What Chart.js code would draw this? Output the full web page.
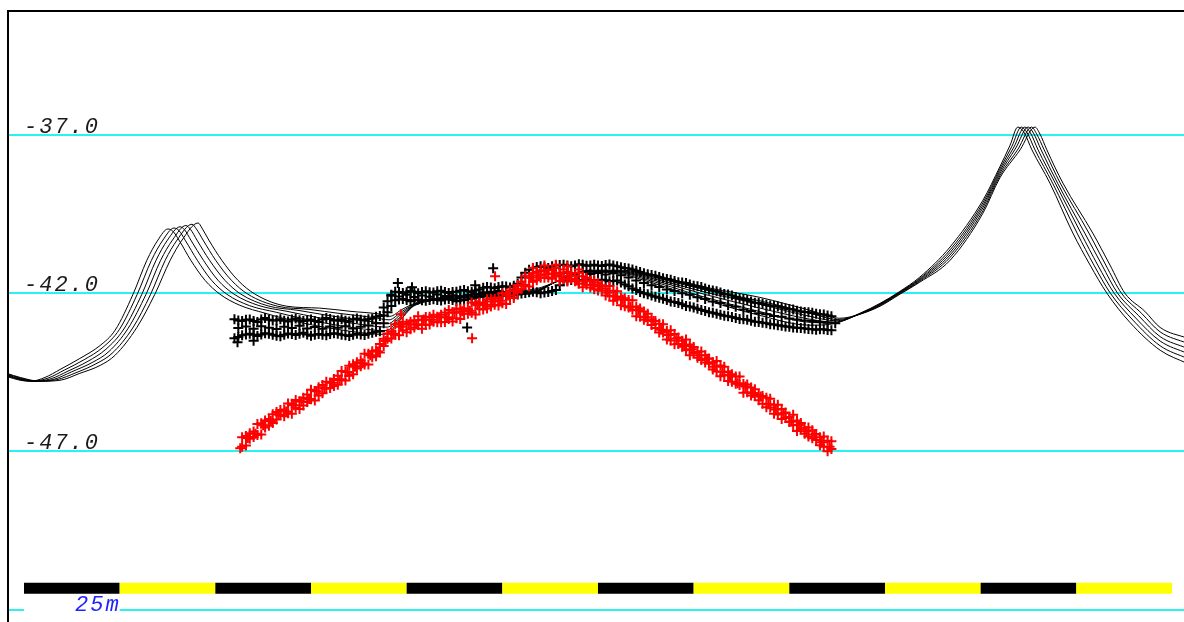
<!DOCTYPE html>
<html>
<head>
<meta charset="utf-8">
<script src="https://cdn.jsdelivr.net/npm/chart.js@4.4.1/dist/chart.umd.min.js"></script>
<style>
  html, body { margin: 0; padding: 0; background: #ffffff; overflow: hidden; }
  canvas { display: block; }
</style>
</head>
<body>
<canvas id="c" width="1184" height="622"></canvas>
<script>
// ---- Axis ranges (metres along profile, depth in metres) ----
const xRange = [-3.92, 303.14];
const yRange = [-52.387, -33.114];
const yTickValues = [-37, -42, -47, -52];
const yTickLabels = ['-37.0', '-42.0', '-47.0', ''];

// ---- Scale bar ----
const scaleBarMarks = [0, 25, 50, 75, 100, 125, 150, 175, 200, 225, 250, 275, 300];
const scaleBarColors = ['#000000', '#ffff00'];
const scaleBarDepth = -51.32;
const scaleBarLabel = '25m';

// ---- Bathymetric profile lines (x m, depth m) ----
const profile1 = [[-4.5,-44.63],[-1.0,-44.75],[1.6,-44.78],[5.5,-44.66],[9.4,-44.41],[14.6,-44.06],[19.9,-43.65],[23.8,-43.17],[28.5,-42.03],[32.1,-40.96],[35.0,-40.32],[37.6,-39.97],[38.9,-40.04],[40.5,-40.32],[43.6,-40.96],[47.3,-41.59],[51.2,-42.03],[56.4,-42.38],[63.0,-42.63],[72.1,-42.92],[85.2,-43.20],[94.3,-43.30],[98.3,-42.85],[102.2,-42.38],[113.9,-42.16],[124.4,-42.05],[132.2,-42.03],[138.8,-41.65],[145.3,-41.34],[153.1,-41.34],[163.6,-41.65],[176.6,-42.16],[192.3,-42.70],[205.4,-43.01],[210.6,-42.98],[218.5,-42.63],[223.7,-42.32],[228.9,-41.94],[234.1,-41.49],[242.0,-40.54],[250.6,-39.06],[255.0,-38.01],[257.7,-37.32],[259.7,-36.75],[261.3,-36.91],[263.4,-37.47],[268.1,-38.52],[274.1,-40.10],[278.6,-41.11],[283.0,-42.00],[289.0,-42.92],[296.9,-43.80],[304.0,-44.22]];
const profile2 = [[-4.5,-44.61],[-1.0,-44.73],[2.1,-44.78],[6.3,-44.68],[10.5,-44.43],[15.7,-44.10],[20.6,-43.71],[24.9,-43.15],[29.6,-42.03],[33.3,-40.96],[36.3,-40.32],[39.2,-39.94],[40.5,-40.02],[42.1,-40.32],[45.3,-40.96],[49.0,-41.59],[53.0,-42.03],[58.9,-42.39],[65.9,-42.60],[74.7,-42.85],[86.8,-43.10],[94.6,-43.18],[98.4,-42.78],[102.3,-42.36],[113.9,-42.15],[124.4,-42.03],[132.5,-42.00],[139.0,-41.64],[145.8,-41.32],[153.6,-41.32],[164.1,-41.62],[177.2,-42.10],[192.3,-42.58],[205.4,-42.92],[211.2,-42.94],[218.5,-42.64],[223.7,-42.34],[228.9,-41.96],[234.1,-41.53],[242.0,-40.63],[250.6,-39.14],[255.0,-38.08],[258.2,-37.35],[260.6,-36.75],[262.1,-36.92],[264.2,-37.47],[268.8,-38.52],[275.2,-40.10],[279.6,-41.11],[283.9,-42.00],[289.8,-42.85],[296.9,-43.66],[304.0,-44.06]];
const profile3 = [[-4.5,-44.59],[-1.0,-44.72],[2.6,-44.78],[7.1,-44.70],[11.5,-44.46],[16.7,-44.15],[21.4,-43.77],[26.1,-43.13],[30.8,-42.03],[34.5,-40.96],[37.5,-40.32],[40.8,-39.90],[42.0,-40.00],[43.6,-40.32],[46.9,-40.96],[50.7,-41.59],[54.9,-42.03],[61.4,-42.39],[68.7,-42.57],[77.3,-42.78],[88.3,-42.99],[94.9,-43.07],[98.5,-42.72],[102.5,-42.34],[113.9,-42.13],[124.4,-42.01],[132.7,-41.97],[139.3,-41.63],[146.3,-41.31],[154.2,-41.31],[164.6,-41.59],[177.7,-42.03],[192.3,-42.47],[205.4,-42.82],[211.7,-42.91],[218.5,-42.65],[223.7,-42.35],[228.9,-41.97],[234.1,-41.56],[242.0,-40.71],[250.6,-39.22],[255.0,-38.15],[258.7,-37.38],[261.5,-36.75],[263.0,-36.93],[265.0,-37.47],[269.5,-38.52],[276.2,-40.10],[280.6,-41.11],[284.9,-42.00],[290.5,-42.78],[296.9,-43.51],[304.0,-43.90]];
const profile4 = [[-4.5,-44.57],[-1.0,-44.70],[3.1,-44.78],[7.8,-44.72],[12.5,-44.48],[17.8,-44.19],[22.2,-43.84],[27.2,-43.11],[31.9,-42.03],[35.7,-40.96],[38.8,-40.32],[42.3,-39.86],[43.5,-39.98],[45.2,-40.32],[48.5,-40.96],[52.5,-41.59],[56.7,-42.03],[63.8,-42.40],[71.6,-42.54],[80.0,-42.71],[89.9,-42.88],[95.1,-42.96],[98.6,-42.65],[102.6,-42.32],[113.9,-42.11],[124.4,-41.99],[133.0,-41.94],[139.6,-41.61],[146.8,-41.30],[154.7,-41.30],[165.1,-41.56],[178.2,-41.97],[192.3,-42.35],[205.4,-42.73],[212.2,-42.87],[218.5,-42.65],[223.7,-42.37],[228.9,-41.99],[234.1,-41.59],[242.0,-40.79],[250.6,-39.30],[255.0,-38.22],[259.2,-37.41],[262.4,-36.75],[263.8,-36.94],[265.8,-37.47],[270.1,-38.52],[277.2,-40.10],[281.7,-41.11],[285.8,-42.00],[291.3,-42.71],[296.9,-43.37],[304.0,-43.74]];
const profile5 = [[-4.5,-44.55],[-1.0,-44.68],[3.7,-44.78],[8.6,-44.73],[13.6,-44.51],[18.8,-44.23],[23.0,-43.90],[28.4,-43.10],[33.1,-42.03],[36.9,-40.96],[40.0,-40.32],[43.9,-39.82],[45.0,-39.96],[46.8,-40.32],[50.1,-40.96],[54.2,-41.59],[58.5,-42.03],[66.3,-42.41],[74.5,-42.51],[82.6,-42.64],[91.5,-42.77],[95.4,-42.84],[98.7,-42.58],[102.8,-42.30],[113.9,-42.09],[124.4,-41.97],[133.3,-41.91],[139.8,-41.60],[147.4,-41.29],[155.2,-41.29],[165.7,-41.53],[178.7,-41.91],[192.3,-42.24],[205.4,-42.63],[212.7,-42.83],[218.5,-42.66],[223.7,-42.39],[228.9,-42.01],[234.1,-41.62],[242.0,-40.87],[250.6,-39.39],[255.0,-38.29],[259.8,-37.44],[263.3,-36.75],[264.6,-36.96],[266.6,-37.47],[270.8,-38.52],[278.3,-40.10],[282.7,-41.11],[286.8,-42.00],[292.1,-42.64],[296.9,-43.22],[304.0,-43.58]];
const profile6 = [[-4.5,-44.53],[-1.0,-44.66],[4.2,-44.78],[9.4,-44.75],[14.6,-44.53],[19.9,-44.28],[23.8,-43.96],[29.5,-43.08],[34.2,-42.03],[38.2,-40.96],[41.3,-40.32],[45.5,-39.78],[46.5,-39.94],[48.3,-40.32],[51.7,-40.96],[55.9,-41.59],[60.4,-42.03],[68.7,-42.41],[77.3,-42.47],[85.2,-42.57],[93.0,-42.66],[95.6,-42.73],[98.8,-42.51],[103.0,-42.28],[113.9,-42.07],[124.4,-41.95],[133.5,-41.87],[140.1,-41.59],[147.9,-41.27],[155.7,-41.27],[166.2,-41.49],[179.3,-41.84],[192.3,-42.13],[205.4,-42.54],[213.2,-42.79],[218.5,-42.66],[223.7,-42.41],[228.9,-42.03],[234.1,-41.65],[242.0,-40.96],[250.6,-39.47],[255.0,-38.36],[260.3,-37.47],[264.2,-36.75],[265.5,-36.97],[267.3,-37.47],[271.5,-38.52],[279.3,-40.10],[283.8,-41.11],[287.7,-42.00],[292.9,-42.57],[296.9,-43.08],[304.0,-43.42]];

// ---- Black soundings (+) ----
const blackSoundings = [
[55,-42.82],[57,-42.88],[59,-42.83],[61,-42.91],[63,-42.78],[65,-42.86],[67,-42.82],[69,-42.89],[71,-42.80],[73,-42.88],[75,-42.83],[77,-42.91],[79,-42.78],[81,-42.86],[83,-42.82],[85,-42.89],[87,-42.80],[89,-42.86],[91,-42.80],[93,-42.72],[95,-42.25],[97,-41.95],[99,-41.99],[101,-41.93],[103,-42.00],[105,-41.94],[107,-41.98],[109,-41.92],[111,-41.99],[113,-41.95],[115,-41.90],[117,-41.96],[119,-41.88],[121,-41.80],[123,-41.84],[125,-41.78],[127,-41.82],[129,-41.70],[131,-41.35],[133,-41.20],[135,-41.15],[137,-41.20],[139,-41.12],[141,-41.10],[143,-41.15],[145,-41.08],[147,-41.13],[149,-41.10],[151,-41.14],[153,-41.09],[155,-41.15],[157,-41.20],[159,-41.25],[161,-41.33],[163,-41.40],[165,-41.45],[167,-41.53],[169,-41.57],[171,-41.65],[173,-41.68],[175,-41.76],[177,-41.80],[179,-41.89],[181,-41.94],[183,-42.02],[185,-42.07],[187,-42.16],[189,-42.21],[191,-42.30],[193,-42.33],[195,-42.39],[197,-42.42],[199,-42.48],[201,-42.51],[203,-42.58],[205,-42.60],[207,-42.65],[209,-42.67],[211,-42.73],
[56,-42.86],[58,-42.84],[60,-42.88],[62,-42.83],[64,-42.84],[66,-42.85],[68,-42.87],[70,-42.83],[72,-42.85],[74,-42.86],[76,-42.88],[78,-42.83],[80,-42.81],[82,-42.85],[84,-42.87],[86,-42.83],[88,-42.84],[90,-42.82],[92,-42.74],[94,-42.45],[96,-42.05],[98,-41.96],[100,-41.97],[102,-41.95],[104,-41.96],[106,-41.97],[108,-41.94],[110,-41.96],[112,-41.96],[114,-41.92],[116,-41.94],[118,-41.91],[120,-41.83],[122,-41.82],[124,-41.80],[126,-41.79],[128,-41.76],[130,-41.50],[132,-41.26],[134,-41.17],[136,-41.18],[138,-41.15],[140,-41.11],[142,-41.12],[144,-41.12],[146,-41.10],[148,-41.12],[150,-41.12],[152,-41.11],[154,-41.12],[156,-41.18],[158,-41.22],[160,-41.29],[162,-41.37],[164,-41.42],[166,-41.49],[168,-41.55],[170,-41.61],[172,-41.66],[174,-41.72],[176,-41.78],[178,-41.85],[180,-41.91],[182,-41.98],[184,-42.04],[186,-42.12],[188,-42.18],[190,-42.26],[192,-42.31],[194,-42.36],[196,-42.40],[198,-42.45],[200,-42.50],[202,-42.55],[204,-42.59],[206,-42.62],[208,-42.66],[210,-42.70],
[56,-43.10],[58,-43.05],[60,-43.12],[62,-43.04],[64,-43.09],[66,-43.13],[68,-43.06],[70,-43.10],[72,-43.03],[74,-43.11],[76,-43.07],[78,-43.12],[80,-43.05],[82,-43.09],[84,-43.04],[86,-43.11],[88,-43.06],[90,-43.02],[92,-42.95],[94,-42.70],
[96,-42.08],[98,-42.10],[100,-42.05],[102,-42.12],[104,-42.07],[106,-42.11],[108,-42.04],[110,-42.09],[112,-42.06],[114,-42.12],[116,-42.05],[118,-42.02],[120,-41.97],[122,-41.95],[124,-41.93],[126,-41.97],[128,-41.90],
[140,-41.38],[142,-41.35],[144,-41.40],[146,-41.34],[148,-41.39],[150,-41.36],[152,-41.41],[154,-41.37],[156,-41.43],[158,-41.50],[160,-41.60],[162,-41.68],[164,-41.75],[166,-41.80],[168,-41.88],[170,-41.93],[172,-42.00],[174,-42.05],[176,-42.13],[178,-42.18],[180,-42.26],[182,-42.31],[184,-42.38],[186,-42.43],[188,-42.51],[190,-42.56],[192,-42.63],[194,-42.66],[196,-42.72],[198,-42.74],[200,-42.80],[202,-42.83],[204,-42.86],[206,-42.88],[208,-42.91],[210,-42.93],[212,-42.95],
[55,-43.42],[57,-43.33],[59,-43.28],[61,-43.35],[63,-43.26],[65,-43.31],[67,-43.36],[69,-43.27],[71,-43.32],[73,-43.25],[75,-43.34],[77,-43.29],[79,-43.33],[81,-43.26],[83,-43.31],[85,-43.35],[87,-43.28],[89,-43.32],[91,-43.25],[93,-43.20],[95,-42.60],[97,-42.22],[99,-42.18],[101,-42.25],[103,-42.20],[105,-42.24],[107,-42.19],[109,-42.23],[111,-42.18],[113,-42.25],[115,-42.21],[117,-42.17],[119,-42.12],[121,-42.08],[123,-42.12],[125,-42.06],[127,-42.10],[129,-42.04],[131,-41.99],[133,-41.95],[135,-42.00],[137,-41.96],[139,-41.90],[141,-41.62],[143,-41.58],[145,-41.61],[147,-41.56],[149,-41.60],[151,-41.57],[153,-41.62],[155,-41.60],[157,-41.72],[159,-41.85],[161,-41.96],[163,-42.03],[165,-42.11],[167,-42.17],[169,-42.26],[171,-42.31],[173,-42.40],[175,-42.45],[177,-42.53],[179,-42.60],[181,-42.65],[183,-42.71],[185,-42.75],[187,-42.81],[189,-42.84],[191,-42.90],[193,-42.93],[195,-42.98],[197,-43.01],[199,-43.05],[201,-43.08],[203,-43.10],[205,-43.13],[207,-43.15],[209,-43.14],[211,-43.17],
[56,-43.38],[58,-43.30],[60,-43.31],[62,-43.30],[64,-43.28],[66,-43.34],[68,-43.31],[70,-43.29],[72,-43.28],[74,-43.30],[76,-43.31],[78,-43.31],[80,-43.29],[82,-43.28],[84,-43.33],[86,-43.31],[88,-43.30],[90,-43.28],[92,-43.22],[94,-42.95],[96,-42.40],[98,-42.20],[100,-42.21],[102,-42.22],[104,-42.22],[106,-42.21],[108,-42.21],[110,-42.20],[112,-42.21],[114,-42.23],[116,-42.19],[118,-42.14],[120,-42.10],[122,-42.10],[124,-42.09],[126,-42.08],[128,-42.07],[130,-42.01],[132,-41.97],[134,-41.97],[136,-41.98],[138,-41.93],[140,-41.75],[142,-41.60],[144,-41.59],[146,-41.58],[148,-41.58],[150,-41.58],[152,-41.59],[154,-41.61],[156,-41.66],[158,-41.78],[160,-41.90],[162,-42.00],[164,-42.07],[166,-42.14],[168,-42.21],[170,-42.28],[172,-42.35],[174,-42.42],[176,-42.49],[178,-42.56],[180,-42.62],[182,-42.68],[184,-42.73],[186,-42.78],[188,-42.82],[190,-42.87],[192,-42.91],[194,-42.95],[196,-42.99],[198,-43.03],[200,-43.06],[202,-43.09],[204,-43.11],[206,-43.14],[208,-43.14],[210,-43.16],
[97.7,-41.68],[101.4,-41.81],[117.9,-41.75],[122.6,-41.21],[115.8,-43.08],[55.8,-43.55],[60,-43.50]
];

// ---- Red soundings (+) ----
const redSoundings = [
[57,-46.55],[59,-46.42],[61,-46.13],[63,-46.02],[65,-45.82],[67,-45.69],[69,-45.48],[71,-45.37],[73,-45.30],[75,-45.05],[77,-44.97],[79,-44.80],[81,-44.71],[83,-44.46],[85,-44.29],[87,-44.18],[89,-43.91],[91,-43.83],[93,-43.60],[95,-43.27],[97,-42.98],[99,-42.90],[101,-42.90],[103,-42.73],[105,-42.75],[107,-42.68],[109,-42.68],[111,-42.53],[113,-42.48],[115,-42.48],[117,-42.29],[119,-42.29],[121,-42.19],[123,-42.17],[125,-42.00],[127,-41.91],[129,-41.74],[131,-41.45],[133,-41.37],[135,-41.27],[137,-41.27],[139,-41.20],[141,-41.25],[143,-41.36],[145,-41.35],[147,-41.51],[149,-41.59],[151,-41.75],[153,-41.77],[155,-41.94],[157,-42.16],[159,-42.22],[161,-42.48],[163,-42.65],[165,-42.88],[167,-42.98],[169,-43.17],[171,-43.40],[173,-43.46],[175,-43.70],[177,-43.84],[179,-44.06],[181,-44.14],[183,-44.32],[185,-44.56],[187,-44.63],[189,-44.88],[191,-45.03],[193,-45.25],[195,-45.33],[197,-45.52],[199,-45.77],[201,-45.84],[203,-46.10],[205,-46.24],[207,-46.45],[209,-46.53],[211,-46.68],
[58,-46.81],[60,-46.54],[62,-46.46],[64,-46.19],[66,-45.99],[68,-45.89],[70,-45.81],[72,-45.66],[74,-45.44],[76,-45.39],[78,-45.16],[80,-44.99],[82,-44.89],[84,-44.76],[86,-44.56],[88,-44.31],[90,-44.25],[92,-43.99],[94,-43.67],[96,-43.43],[98,-43.33],[100,-43.23],[102,-43.08],[104,-43.12],[106,-42.99],[108,-42.92],[110,-42.91],[112,-42.89],[114,-42.81],[116,-42.65],[118,-42.67],[120,-42.51],[122,-42.42],[124,-42.39],[126,-42.34],[128,-42.15],[130,-41.86],[132,-41.79],[134,-41.59],[136,-41.51],[138,-41.54],[140,-41.61],[142,-41.63],[144,-41.62],[146,-41.81],[148,-41.82],[150,-41.91],[152,-42.07],[154,-42.24],[156,-42.38],[158,-42.45],[160,-42.73],[162,-42.84],[164,-43.00],[166,-43.24],[168,-43.46],[170,-43.61],[172,-43.69],[174,-43.96],[176,-44.04],[178,-44.19],[180,-44.41],[182,-44.62],[184,-44.77],[186,-44.86],[188,-45.14],[190,-45.23],[192,-45.38],[194,-45.60],[196,-45.81],[198,-45.97],[200,-46.07],[202,-46.35],[204,-46.44],[206,-46.58],[208,-46.80],[210,-46.99],
[58.5,-46.57],[60.5,-46.44],[62.5,-46.17],[64.5,-46.04],[66.5,-45.83],[68.5,-45.74],[70.5,-45.54],[72.5,-45.42],[74.5,-45.34],[76.5,-45.10],[78.5,-45.01],[80.5,-44.83],[82.5,-44.74],[84.5,-44.49],[86.5,-44.32],[88.5,-44.21],[90.5,-43.96],[92.5,-43.84],[94.5,-43.51],[96.5,-43.28],[98.5,-43.06],[100.5,-42.99],[102.5,-42.98],[104.5,-42.83],[106.5,-42.84],[108.5,-42.76],[110.5,-42.76],[112.5,-42.62],[114.5,-42.57],[116.5,-42.55],[118.5,-42.38],[120.5,-42.36],[122.5,-42.26],[124.5,-42.24],[126.5,-42.07],[128.5,-41.91],[130.5,-41.76],[132.5,-41.50],[134.5,-41.44],[136.5,-41.40],[138.5,-41.38],[140.5,-41.47],[142.5,-41.45],[144.5,-41.60],[146.5,-41.62],[148.5,-41.74],[150.5,-41.79],[152.5,-41.98],[154.5,-42.10],[156.5,-42.20],[158.5,-42.43],[160.5,-42.54],[162.5,-42.76],[164.5,-42.88],[166.5,-43.15],[168.5,-43.32],[170.5,-43.43],[172.5,-43.67],[174.5,-43.77],[176.5,-43.96],[178.5,-44.07],[180.5,-44.32],[182.5,-44.48],[184.5,-44.59],[186.5,-44.84],[188.5,-44.95],[190.5,-45.15],[192.5,-45.26],[194.5,-45.51],[196.5,-45.67],[198.5,-45.79],[200.5,-46.05],[202.5,-46.16],[204.5,-46.36],[206.5,-46.46],[208.5,-46.71],[210.5,-46.85],
[58,-46.51],[60,-46.37],[62,-46.11],[64,-45.97],[66,-45.75],[68,-45.67],[70,-45.49],[72,-45.41],[74,-45.20],[76,-45.09],[78,-44.90],[80,-44.82],[82,-44.61],[84,-44.49],[86,-44.24],[88,-44.12],[90,-43.91],[92,-43.80],[94,-43.44],[96,-43.20],[98,-42.99],[100,-42.96],[102,-42.85],[104,-42.85],[106,-42.74],[108,-42.74],[110,-42.61],[112,-42.60],[114,-42.50],[116,-42.49],[118,-42.34],[120,-42.31],[122,-42.17],[124,-42.14],[126,-42.01],[128,-41.91],[130,-41.64],[132,-41.51],[134,-41.32],[136,-41.31],[138,-41.25],[140,-41.35],[142,-41.33],[144,-41.45],[146,-41.46],[148,-41.60],[150,-41.67],[152,-41.85],[154,-41.92],[156,-42.13],[158,-42.21],[160,-42.43],[162,-42.58],[164,-42.83],[166,-42.96],[168,-43.19],[170,-43.29],[172,-43.50],[174,-43.62],[176,-43.85],[178,-43.96],[180,-44.18],[182,-44.28],[184,-44.50],[186,-44.63],[188,-44.87],[190,-44.98],[192,-45.20],[194,-45.30],[196,-45.52],[198,-45.66],[200,-45.91],[202,-46.02],[204,-46.24],[206,-46.33],[208,-46.55],[210,-46.66],
[57,-46.85],[59,-46.60],[61,-46.48],[63,-46.24],[65,-46.10],[67,-45.85],[69,-45.79],[71,-45.62],[73,-45.55],[75,-45.35],[77,-45.23],[79,-45.01],[81,-44.93],[83,-44.72],[85,-44.61],[87,-44.38],[89,-44.25],[91,-44.02],[93,-43.87],[95,-43.44],[97,-43.31],[99,-43.17],[101,-43.14],[103,-43.00],[105,-43.00],[107,-42.90],[109,-42.92],[111,-42.81],[113,-42.79],[115,-42.65],[117,-42.62],[119,-42.49],[121,-42.48],[123,-42.36],[125,-42.32],[127,-42.15],[129,-41.97],[131,-41.73],[133,-41.64],[135,-41.51],[137,-41.50],[139,-41.45],[141,-41.55],[143,-41.54],[145,-41.70],[147,-41.73],[149,-41.87],[151,-41.91],[153,-42.08],[155,-42.19],[157,-42.41],[159,-42.52],[161,-42.74],[163,-42.86],[165,-43.10],[167,-43.24],[169,-43.49],[171,-43.60],[173,-43.80],[175,-43.89],[177,-44.11],[179,-44.23],[181,-44.47],[183,-44.59],[185,-44.80],[187,-44.90],[189,-45.13],[191,-45.25],[193,-45.49],[195,-45.61],[197,-45.83],[199,-45.94],[201,-46.17],[203,-46.30],[205,-46.53],[207,-46.64],[209,-46.85],[211,-46.92],
[133,-41.20],[136,-41.12],[139,-41.10],[142,-41.15],[145,-41.25],[56.5,-46.90],[98.5,-42.66],[117.1,-43.42],[123.1,-41.46]
];

const profiles = [profile1, profile2, profile3, profile4, profile5, profile6];
const toXY = arr => arr.map(([x, y]) => ({x, y}));

const LABEL_FONT = "'Liberation Mono', 'DejaVu Sans Mono', monospace";
const GRID_COLOR = '#2af2f2';

const framePlugin = {
  id: 'frameAndScale',
  beforeDraw(chart) {
    const ctx = chart.ctx;
    ctx.save();
    ctx.fillStyle = '#ffffff';
    ctx.fillRect(0, 0, chart.width, chart.height);
    ctx.restore();
    ctx.letterSpacing = '2px';
  },
  afterDraw(chart) {
    const ctx = chart.ctx;
    const xs = chart.scales.x, ys = chart.scales.y;
    const x0 = xs.getPixelForValue(scaleBarMarks[0]);
    const x1 = xs.getPixelForValue(scaleBarMarks[1]);
    const yl = ys.getPixelForValue(yTickValues[yTickValues.length - 1]);
    ctx.save();
    ctx.fillStyle = '#ffffff';
    ctx.fillRect(x0, yl - 4, x1 - x0, 8);
    ctx.letterSpacing = '2px';
    ctx.fillStyle = '#2222ff';
    ctx.font = 'italic 22px ' + LABEL_FONT;
    ctx.textAlign = 'right';
    ctx.textBaseline = 'alphabetic';
    ctx.fillText(scaleBarLabel, x1 + 1, yl + 1);
    ctx.letterSpacing = '0px';
    ctx.fillStyle = '#000000';
    ctx.fillRect(7, 10, 2, chart.height - 10);
    ctx.fillRect(7, 10, chart.width - 7, 2);
    ctx.restore();
  }
};

const datasets = [];
profiles.forEach((p) => {
  datasets.push({
    type: 'line',
    data: toXY(p),
    borderColor: '#000000',
    borderWidth: 1,
    pointRadius: 0,
    cubicInterpolationMode: 'monotone',
    fill: false,
    order: 3
  });
});
datasets.push({
  type: 'scatter',
  data: toXY(blackSoundings),
  pointStyle: 'cross',
  pointRadius: 5,
  pointBorderWidth: 2,
  pointBorderColor: '#000000',
  pointBackgroundColor: '#000000',
  order: 2
});
datasets.push({
  type: 'scatter',
  data: toXY(redSoundings),
  pointStyle: 'cross',
  pointRadius: 5,
  pointBorderWidth: 2,
  pointBorderColor: '#ff0000',
  pointBackgroundColor: '#ff0000',
  order: 1
});
datasets.push({
  type: 'line',
  data: scaleBarMarks.map(x => ({x, y: scaleBarDepth})),
  borderWidth: 11,
  borderCapStyle: 'butt',
  pointRadius: 0,
  fill: false,
  segment: { borderColor: ctx => scaleBarColors[ctx.p0DataIndex % 2] },
  borderColor: scaleBarColors[0],
  order: 4
});

new Chart(document.getElementById('c'), {
  data: { datasets },
  options: {
    responsive: false,
    devicePixelRatio: 1,
    animation: false,
    layout: { autoPadding: false, padding: { left: 9, top: 12, right: 0, bottom: 0 } },
    plugins: { legend: { display: false }, tooltip: { enabled: false } },
    scales: {
      x: { type: 'linear', min: xRange[0], max: xRange[1], display: false },
      y: {
        type: 'linear',
        min: yRange[0],
        max: yRange[1],
        afterFit: s => { s.width = 0; s.paddingTop = 0; s.paddingBottom = 0; s.paddingLeft = 0; s.paddingRight = 0; },
        afterBuildTicks: s => { s.ticks = yTickValues.map(v => ({ value: v })); },
        grid: { color: GRID_COLOR, lineWidth: 2, drawTicks: false },
        border: { display: false },
        ticks: {
          mirror: true,
          padding: 15,
          labelOffset: -8,
          color: '#1a1a1a',
          font: { family: LABEL_FONT, size: 22, style: 'italic' },
          callback: (v) => yTickLabels[yTickValues.indexOf(v)] ?? ''
        }
      }
    }
  },
  plugins: [framePlugin]
});
</script>
</body>
</html>
